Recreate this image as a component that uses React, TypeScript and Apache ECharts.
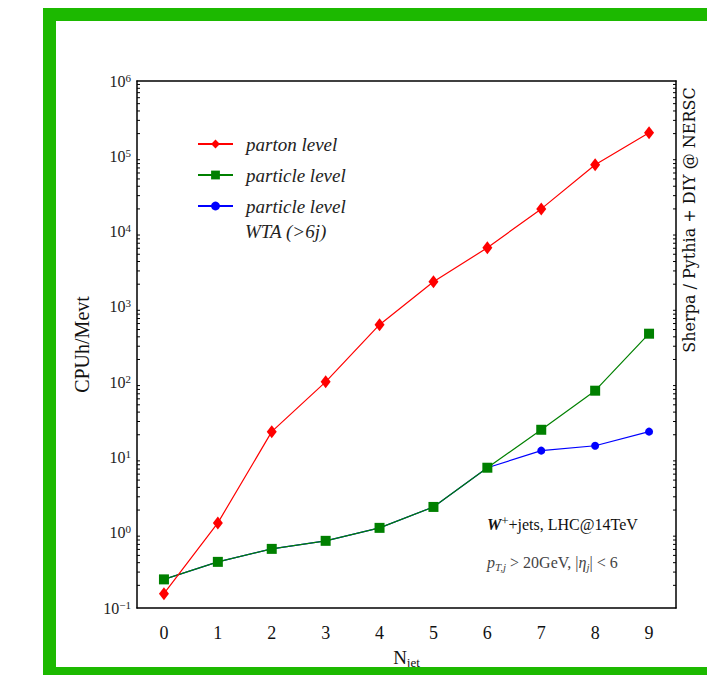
import React, { useEffect, useRef } from "react";
import * as echarts from "echarts";

const categories = ["0", "1", "2", "3", "4", "5", "6", "7", "8", "9"];
const partonLevel = [0.155, 1.35, 22, 101, 580, 2150, 6100, 20000, 77000, 205000];
const particleLevel = [0.24, 0.41, 0.61, 0.78, 1.16, 2.2, 7.3, 23.3, 77, 440];
const particleWTA = [0.24, 0.41, 0.61, 0.78, 1.16, 2.2, 7.3, 12.3, 14.3, 22];
const decadeExponents = [-1, 0, 1, 2, 3, 4, 5];
const minorMultipliers = [2, 3, 4, 5, 6, 7, 8, 9];

const SERIF = "'Liberation Serif', 'DejaVu Serif', serif";
const WIDE_SERIF = "'DejaVu Serif', 'Liberation Serif', serif";

export default function App() {
  const ref = useRef<HTMLDivElement>(null);
  useEffect(() => {
    if (!ref.current) return;
    const chart = echarts.init(ref.current, null, { renderer: "svg" });
    const minorTicks: number[][] = [];
    decadeExponents.forEach((e) =>
      minorMultipliers.forEach((m) => minorTicks.push([0, m * Math.pow(10, e)]))
    );
    const supRich = {
      b: { fontSize: 16, fontFamily: SERIF, color: "#222", lineHeight: 18 },
      sup: { fontSize: 11, fontFamily: SERIF, color: "#222", verticalAlign: "top", lineHeight: 18, padding: [0, 0, 6, 0] },
    };
    const fmtLog = (v: number) => {
      const e = Math.round(Math.log10(v));
      return "{b|10}{sup|" + (e < 0 ? "\u2212" + -e : String(e)) + "}";
    };
    const option: any = {
      animation: false,
      backgroundColor: "#fff",
      grid: { left: 137, top: 81, width: 539, height: 527, outerBoundsMode: "none", containLabel: false },
      xAxis: [
        {
          type: "category",
          data: categories,
          boundaryGap: true,
          position: "bottom",
          axisLine: { lineStyle: { color: "#000", width: 1.5 } },
          axisTick: { inside: true, alignWithLabel: true, length: 5, lineStyle: { color: "#000" } },
          axisLabel: { fontFamily: SERIF, fontSize: 18, color: "#111", margin: 16 },
          splitLine: { show: false },
          name: "{n|N}{s|jet}",
          nameLocation: "middle",
          nameGap: 38,
          nameTextStyle: {
            rich: {
              n: { fontFamily: SERIF, fontSize: 19, color: "#111" },
              s: { fontFamily: SERIF, fontSize: 13, color: "#111", padding: [10, 0, 0, 0] },
            },
          },
        },
        {
          type: "category",
          data: categories,
          boundaryGap: true,
          position: "top",
          axisLine: { lineStyle: { color: "#000", width: 1.5 } },
          axisTick: { inside: true, alignWithLabel: true, length: 5, lineStyle: { color: "#000" } },
          axisLabel: { show: false },
          splitLine: { show: false },
        },
      ],
      yAxis: [
        {
          type: "log",
          logBase: 10,
          min: 0.1,
          max: 1e6,
          splitNumber: 7,
          position: "left",
          axisLine: { show: true, lineStyle: { color: "#000", width: 1.5 } },
          axisTick: { inside: true, length: 6, lineStyle: { color: "#000" } },
          axisLabel: { formatter: fmtLog, rich: supRich, margin: 6 },
          splitLine: { show: false },
          name: "CPUh/Mevt",
          nameLocation: "middle",
          nameGap: 37,
          nameTextStyle: { fontFamily: SERIF, fontSize: 20, color: "#111" },
        },
        {
          type: "log",
          logBase: 10,
          min: 0.1,
          max: 1e6,
          splitNumber: 7,
          position: "right",
          axisLine: { show: true, lineStyle: { color: "#000", width: 1.5 } },
          axisTick: { inside: true, length: 6, lineStyle: { color: "#000" } },
          axisLabel: { show: false },
          splitLine: { show: false },
        },
      ],
      legend: {
        data: ["parton level", "particle level", "particle level WTA"],
        orient: "vertical",
        left: 192,
        top: 129,
        itemWidth: 35,
        itemHeight: 11,
        itemGap: 11,
        formatter: (n: string) => (n === "particle level WTA" ? "particle level" : n),
        textStyle: {
          fontFamily: SERIF,
          fontStyle: "italic",
          fontSize: 19,
          lineHeight: 20,
          color: "#222",
          padding: [0, 0, 0, 8],
        },
      },
      series: [
        {
          name: "particle level WTA",
          type: "line",
          data: particleWTA,
          symbol: "circle",
          symbolSize: 8,
          z: 2,
          lineStyle: { color: "#0000ff", width: 1.2 },
          itemStyle: { color: "#0000ff" },
        },
        {
          name: "particle level",
          type: "line",
          data: particleLevel,
          symbol: "rect",
          symbolSize: 10,
          z: 3,
          lineStyle: { color: "#008000", width: 1.2 },
          itemStyle: { color: "#008000" },
        },
        {
          name: "parton level",
          type: "line",
          data: partonLevel,
          symbol: "diamond",
          symbolSize: [10, 13],
          z: 4,
          lineStyle: { color: "#ff0000", width: 1.2 },
          itemStyle: { color: "#ff0000" },
        },
        {
          type: "custom",
          silent: true,
          data: minorTicks,
          encode: { x: 0, y: 1 },
          z: 1,
          renderItem: (params: any, api: any) => {
            const p = api.coord([0, api.value(1)]);
            const cs = params.coordSys;
            const len = 3;
            const st = { stroke: "#000", lineWidth: 1 };
            return {
              type: "group",
              children: [
                { type: "line", shape: { x1: cs.x, y1: p[1], x2: cs.x + len, y2: p[1] }, style: st },
                { type: "line", shape: { x1: cs.x + cs.width, y1: p[1], x2: cs.x + cs.width - len, y2: p[1] }, style: st },
              ],
            };
          },
        },
      ],
      graphic: [
        {
          type: "text",
          left: 245,
          top: 222,
          style: { text: "WTA (>6j)", fontFamily: SERIF, fontStyle: "italic", fontSize: 19, fill: "#222" },
        },
        {
          type: "text",
          left: 487,
          top: 514,
          style: {
            text: "{w|W}{sup|+}{n|+jets, LHC@14TeV}",
            rich: {
              w: { fontFamily: SERIF, fontStyle: "italic", fontWeight: "bold", fontSize: 16, fill: "#111", lineHeight: 20 },
              sup: { fontFamily: SERIF, fontSize: 13, fill: "#111", verticalAlign: "top", lineHeight: 20, padding: [0, 0, 6, 0] },
              n: { fontFamily: SERIF, fontSize: 16, fill: "#111", lineHeight: 20 },
            },
          },
        },
        {
          type: "text",
          left: 487,
          top: 553,
          style: {
            text: "{i|p}{s|T,j}{n| > 20GeV, |}{i|\u03b7}{s|j}{n|| < 6}",
            rich: {
              i: { fontFamily: SERIF, fontStyle: "italic", fontSize: 16, fill: "#444", lineHeight: 20 },
              s: { fontFamily: SERIF, fontStyle: "italic", fontSize: 11, fill: "#444", lineHeight: 20, padding: [8, 0, 0, 0] },
              n: { fontFamily: SERIF, fontSize: 16, fill: "#444", lineHeight: 20 },
            },
          },
        },
        {
          type: "text",
          x: 681,
          y: 220,
          rotation: Math.PI / 2,
          style: {
            text: "Sherpa / Pythia + DIY @ NERSC",
            fontFamily: WIDE_SERIF,
            fontSize: 16,
            fill: "#111",
            align: "center",
            verticalAlign: "top",
          },
        },
        { type: "rect", z: 100, shape: { x: 43, y: 8, width: 700, height: 13 }, style: { fill: "#1cb900" } },
        { type: "rect", z: 100, shape: { x: 43, y: 8, width: 13, height: 700 }, style: { fill: "#1cb900" } },
        { type: "rect", z: 100, shape: { x: 43, y: 667, width: 700, height: 20 }, style: { fill: "#1cb900" } },
      ],
    };
    chart.setOption(option);
    return () => chart.dispose();
  }, []);
  return (
    <div
      ref={ref}
      style={{ position: "fixed", left: 0, top: 0, width: 707, height: 675, background: "#fff" }}
    />
  );
}
